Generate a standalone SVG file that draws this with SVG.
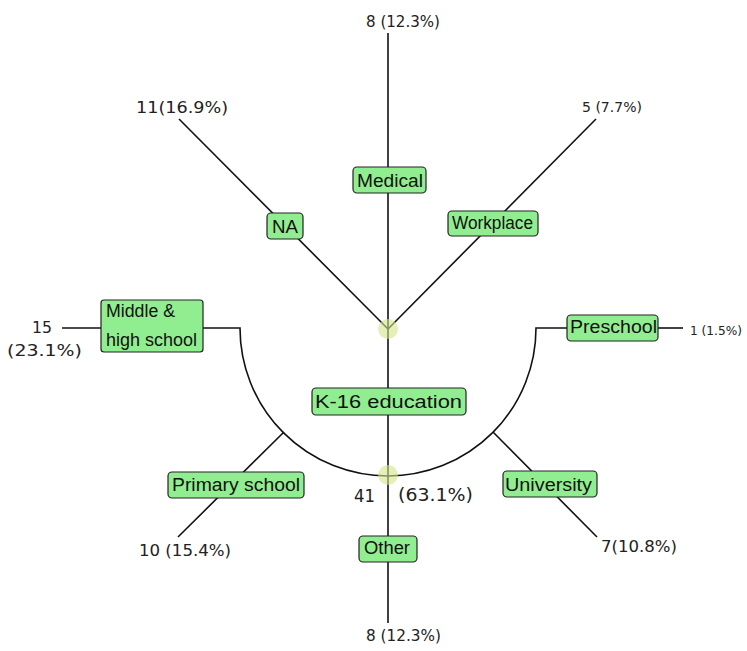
<svg xmlns="http://www.w3.org/2000/svg" width="747" height="651" viewBox="0 0 747 651">
<style>
.box{fill:#90ee90;stroke:#222;stroke-width:1.2}
.lbl{font-family:"Liberation Sans",Arial,sans-serif;font-size:17.5px;fill:#111}
.num{font-family:"DejaVu Sans",Verdana,sans-serif;fill:#222}
.ln{stroke:#111;stroke-width:1.6;fill:none}
.jn{fill:#d4e48a;opacity:0.6}
</style>
<rect width="747" height="651" fill="#fff"/>
<g id="connectors">
<line class="ln" x1="388" y1="33" x2="388" y2="623"/>
<line class="ln" x1="179" y1="119" x2="388" y2="329"/>
<line class="ln" x1="596" y1="119" x2="388" y2="329"/>
<line class="ln" x1="62" y1="328" x2="101" y2="328"/>
<path class="ln" d="M203 328 H240 A148 148 0 0 0 536 328 H567"/>
<line class="ln" x1="658" y1="328" x2="683" y2="328"/>
<line class="ln" x1="284" y1="432" x2="178" y2="537"/>
<line class="ln" x1="493" y1="432" x2="597" y2="537"/>
</g>
<g id="junctions">
<circle class="jn" cx="388" cy="329" r="10"/>
<circle class="jn" cx="388" cy="475" r="10"/>
</g>
<g id="medical"><rect class="box" x="353" y="167" width="73" height="26" rx="4"/><text class="lbl" x="357" y="187" textLength="66" lengthAdjust="spacingAndGlyphs">Medical</text></g>
<g id="na"><rect class="box" x="267" y="213" width="36" height="26" rx="4"/><text class="lbl" x="272" y="233" textLength="26" lengthAdjust="spacingAndGlyphs">NA</text></g>
<g id="workplace"><rect class="box" x="448" y="211" width="90" height="25" rx="4"/><text class="lbl" x="452" y="229" font-size="15.5" textLength="81" lengthAdjust="spacingAndGlyphs">Workplace</text></g>
<g id="middle"><rect class="box" x="101" y="300" width="102" height="52" rx="3" stroke-width="1.6"/><text class="lbl" x="106" y="317" font-size="15.5" textLength="69" lengthAdjust="spacingAndGlyphs">Middle &amp;</text><text class="lbl" x="106" y="346" font-size="15.5" textLength="91" lengthAdjust="spacingAndGlyphs">high school</text></g>
<g id="preschool"><rect class="box" x="567" y="315" width="91" height="26" rx="4"/><text class="lbl" x="570" y="333" textLength="87" lengthAdjust="spacingAndGlyphs">Preschool</text></g>
<g id="k16"><rect class="box" x="312" y="388" width="154" height="27" rx="4"/><text class="lbl" x="315" y="408" textLength="147" lengthAdjust="spacingAndGlyphs">K-16 education</text></g>
<g id="primary"><rect class="box" x="168" y="472" width="136" height="26" rx="4"/><text class="lbl" x="172" y="491" textLength="128" lengthAdjust="spacingAndGlyphs">Primary school</text></g>
<g id="university"><rect class="box" x="503" y="471" width="94" height="26" rx="4"/><text class="lbl" x="505" y="491" textLength="87" lengthAdjust="spacingAndGlyphs">University</text></g>
<g id="other"><rect class="box" x="359" y="536" width="58" height="26" rx="4"/><text class="lbl" x="364" y="554" font-size="16" textLength="46" lengthAdjust="spacingAndGlyphs">Other</text></g>
<g id="values">
<text class="num" x="366" y="27" font-size="15.5" textLength="74" lengthAdjust="spacingAndGlyphs">8 (12.3%)</text>
<text class="num" x="136" y="113" font-size="16" textLength="92" lengthAdjust="spacingAndGlyphs">11(16.9%)</text>
<text class="num" x="582" y="112" font-size="13.5" textLength="60" lengthAdjust="spacingAndGlyphs">5 (7.7%)</text>
<text class="num" x="32" y="333" font-size="16.5" textLength="20" lengthAdjust="spacingAndGlyphs">15</text>
<text class="num" x="7" y="356" font-size="16.5" textLength="75" lengthAdjust="spacingAndGlyphs">(23.1%)</text>
<text class="num" x="690" y="335" font-size="11.5" textLength="52" lengthAdjust="spacingAndGlyphs">1 (1.5%)</text>
<text class="num" x="354" y="502" font-size="18.5" textLength="21" lengthAdjust="spacingAndGlyphs">41</text>
<text class="num" x="398" y="501" font-size="18" textLength="75" lengthAdjust="spacingAndGlyphs">(63.1%)</text>
<text class="num" x="139" y="556" font-size="15" textLength="92" lengthAdjust="spacingAndGlyphs">10 (15.4%)</text>
<text class="num" x="601" y="552" font-size="15" textLength="76" lengthAdjust="spacingAndGlyphs">7(10.8%)</text>
<text class="num" x="366" y="641" font-size="15" textLength="75" lengthAdjust="spacingAndGlyphs">8 (12.3%)</text>
</g>
</svg>
